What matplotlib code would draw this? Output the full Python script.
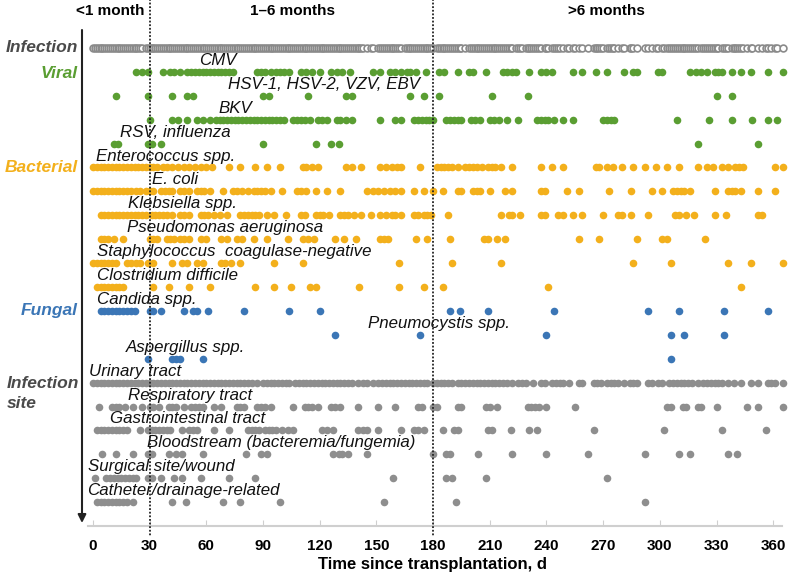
import matplotlib
matplotlib.use("Agg")
import matplotlib.pyplot as plt
import numpy as np

plt.rcParams['font.family'] = ['Liberation Sans', 'DejaVu Sans']

# ---------------- data (days since transplantation) ----------------
row_labels = ["CMV", "HSV-1, HSV-2, VZV, EBV", "BKV", "RSV, influenza",
              "Enterococcus spp.", "E. coli", "Klebsiella spp.", "Pseudomonas aeruginosa",
              "Staphylococcus  coagulase-negative", "Clostridium difficile",
              "Candida spp.", "Pneumocystis spp.", "Aspergillus spp.",
              "Urinary tract", "Respiratory tract", "Gastrointestinal tract",
              "Bloodstream (bacteremia/fungemia)", "Surgical site/wound",
              "Catheter/drainage-related"]
row_groups = ["viral"] * 4 + ["bacterial"] * 6 + ["fungal"] * 3 + ["site"] * 6

cmv = [23, 26, 29, 37, 41, 43, 46, 50, 52, 54, 56, 58, 60, 62, 64, 66, 68, 70, 72, 74,
       87, 89, 91, 94, 97, 99, 101, 104, 110, 113, 116, 120, 126, 129, 132, 136, 148, 152,
       157, 160, 163, 166, 168, 171, 176, 183, 186, 193, 199, 201, 208, 217, 219, 222, 224,
       231, 237, 240, 243, 254, 259, 266, 272, 281, 286, 288, 299, 301, 316, 319, 322, 325,
       329, 331, 333, 338, 343, 348, 357, 365]
hsv = [12, 29, 42, 50, 53, 90, 93, 114, 134, 137, 168, 175, 183, 211, 230, 330, 338]
bkv = [30, 42, 45, 50, 55, 58, 62, 65, 67, 69, 71, 73, 75, 77, 79, 81, 83, 85, 87, 89, 91,
       93, 95, 97, 99, 101, 106, 108, 110, 112, 115, 119, 121, 124, 129, 131, 134, 137, 152,
       160, 163, 170, 172, 174, 176, 178, 180, 187, 189, 191, 193, 195, 200, 202, 205, 210,
       212, 215, 219, 225, 235, 237, 239, 241, 244, 249, 254, 270, 272, 274, 276, 309, 326,
       338, 349, 357, 362]
rsv = [11, 13, 29, 31, 36, 90, 118, 126, 130, 320, 352]
entero = [0, 2, 4, 6, 8, 10, 12, 14, 16, 18, 20, 22, 24, 26, 28, 30, 32, 34, 37, 39, 42, 45,
          48, 51, 54, 57, 60, 63, 72, 78, 86, 92, 99, 111, 113, 116, 119, 134, 137, 142, 152,
          155, 158, 161, 163, 173, 182, 184, 186, 188, 190, 193, 197, 199, 201, 203, 206, 209,
          211, 213, 216, 222, 237, 243, 249, 266, 268, 272, 275, 280, 286, 292, 298, 304, 310,
          320, 325, 328, 333, 336, 340, 342, 344, 361, 365]
ecoli = [0, 2, 4, 6, 8, 10, 12, 14, 16, 18, 20, 23, 25, 28, 30, 32, 36, 38, 40, 42, 46, 48,
         51, 55, 57, 59, 62, 69, 74, 76, 79, 82, 85, 87, 89, 91, 94, 100, 108, 110, 113, 118,
         124, 131, 145, 148, 151, 154, 157, 160, 163, 170, 175, 180, 185, 193, 195, 201, 203,
         205, 210, 218, 222, 237, 239, 251, 257, 273, 285, 296, 301, 307, 309, 311, 313, 316,
         329, 336, 338, 340, 343, 352, 361]
klebs = [4, 6, 8, 10, 12, 14, 16, 18, 20, 22, 24, 26, 28, 31, 33, 35, 37, 39, 42, 46, 48, 51,
         57, 59, 61, 64, 67, 71, 78, 80, 82, 84, 86, 88, 92, 96, 102, 110, 112, 118, 120, 122,
         125, 131, 133, 135, 138, 142, 147, 152, 155, 158, 160, 163, 170, 172, 175, 177, 179,
         188, 216, 220, 222, 226, 237, 239, 246, 249, 254, 259, 270, 278, 280, 285, 294, 308,
         310, 314, 318, 329, 335, 352, 354]
pseudo = [4, 6, 8, 11, 16, 30, 32, 34, 39, 41, 43, 46, 48, 51, 57, 60, 68, 71, 76, 79, 85,
          92, 103, 111, 114, 117, 128, 133, 139, 152, 154, 156, 171, 177, 189, 207, 209, 214,
          218, 257, 268, 288, 301, 304, 324]
staph = [0, 2, 4, 6, 8, 10, 12, 18, 20, 23, 25, 29, 32, 42, 47, 50, 55, 58, 68, 70, 73, 78,
         96, 111, 162, 190, 216, 286, 306, 336, 348, 365]
clost = [2, 4, 6, 8, 10, 12, 14, 16, 32, 40, 51, 62, 86, 96, 105, 115, 118, 141, 162, 175,
         185, 241, 343]
candida = [4, 6, 8, 10, 12, 14, 16, 18, 20, 22, 30, 32, 36, 48, 53, 55, 61, 80, 104, 120,
           189, 194, 209, 244, 294, 310, 334, 357]
pneumo = [128, 173, 240, 306, 313, 334]
asperg = [29, 42, 44, 46, 58, 306]
urinary = [0, 2, 4, 6, 8, 10, 12, 14, 16, 18, 20, 22, 24, 26, 28, 30, 32, 34, 36, 38, 40, 42,
           44, 46, 48, 50, 52, 54, 56, 58, 60, 62, 64, 66, 68, 70, 72, 74, 76, 78, 80, 82, 84,
           87, 90, 92, 94, 96, 98, 100, 102, 104, 107, 109, 111, 113, 115, 117, 119, 121, 123,
           125, 127, 129, 131, 133, 135, 137, 140, 143, 145, 148, 151, 153, 155, 157, 159, 161,
           163, 165, 167, 169, 171, 173, 175, 177, 180, 182, 184, 186, 188, 190, 193, 195, 197,
           199, 201, 203, 205, 207, 209, 211, 213, 215, 217, 219, 222, 225, 227, 229, 233, 237,
           239, 243, 245, 247, 249, 252, 257, 259, 265, 267, 269, 272, 274, 276, 278, 281, 284,
           286, 288, 294, 296, 299, 301, 305, 307, 309, 311, 313, 315, 317, 320, 323, 325, 327,
           329, 331, 333, 336, 339, 343, 348, 352, 357, 359, 361, 365]
resp = [3, 10, 12, 14, 17, 21, 26, 30, 32, 35, 40, 42, 44, 48, 52, 54, 56, 58, 64, 68, 76,
        78, 80, 87, 89, 91, 94, 106, 112, 114, 116, 119, 126, 128, 131, 140, 151, 160, 172,
        174, 180, 182, 193, 195, 208, 210, 214, 230, 232, 234, 236, 240, 255, 304, 306, 312,
        314, 320, 322, 330, 346, 352, 365]
gi = [2, 4, 6, 8, 10, 12, 14, 16, 18, 25, 29, 31, 33, 35, 37, 39, 41, 47, 51, 53, 55, 64, 72,
      82, 84, 86, 88, 91, 93, 95, 97, 100, 103, 106, 121, 124, 127, 140, 143, 145, 151, 163,
      170, 172, 175, 185, 191, 193, 209, 211, 221, 231, 235, 265, 302, 333, 356]
blood = [5, 12, 21, 29, 31, 40, 44, 47, 58, 81, 89, 92, 127, 130, 132, 135, 145, 180, 187,
         189, 204, 222, 240, 262, 292, 310, 316, 336, 341]
surgical = [1, 7, 9, 11, 13, 15, 17, 19, 21, 23, 29, 31, 36, 43, 47, 57, 72, 86, 159, 187,
            190, 208, 272]
catheter = [2, 4, 6, 8, 10, 12, 14, 16, 18, 21, 42, 49, 69, 78, 99, 154, 192, 292]

rows = [cmv, hsv, bkv, rsv, entero, ecoli, klebs, pseudo, staph, clost, candida, pneumo,
        asperg, urinary, resp, gi, blood, surgical, catheter]

x_ticks = [0, 30, 60, 90, 120, 150, 180, 210, 240, 270, 300, 330, 360]
period_bounds = [30, 180]
period_labels = ["<1 month", "1\u20136 months", ">6 months"]

# ---------------- layout / style ----------------
colors = {"viral": "#5a9e32", "bacterial": "#f3b01c", "fungal": "#3b76b6", "site": "#8e8e8e"}
label_x = [56, 71.5, 66.5, 14.3, 1.6, 31.2, 18.5, 18, 2.1, 2.1, 2.1, 145.6, 17.5,
           -2.1, 18.5, 9, 28.6, -2.6, -3.2]

fig = plt.figure(figsize=(8, 5.75), dpi=100)
ax = fig.add_axes([0.1096, 0.0852, 0.868, 0.8729])
ax.set_xlim(-2.8, 364.7)
ax.set_ylim(20.0, -1.0)

# Infection summary row: union of all days
infection_days = sorted(set(int(round(d)) for r in rows for d in r))
ax.scatter(infection_days, np.zeros(len(infection_days)), s=24, facecolor='white',
           edgecolor='#8a8a8a', linewidth=1.2, clip_on=False, zorder=3)

for i, (days, grp) in enumerate(zip(rows, row_groups)):
    y = i + 1
    ax.scatter(days, np.full(len(days), y), s=30, color=colors[grp], linewidth=0,
               clip_on=False, zorder=3)
    ax.text(label_x[i], y - 0.48, row_labels[i], fontsize=12.2, style='italic',
            color='#111111', va='center', ha='left', zorder=4)

for b in period_bounds:
    ax.plot([b, b], [-2.05, 20.4], ls=(0, (1, 1)), color='#222222', lw=1.3,
            clip_on=False, zorder=5)

for s in ['top', 'right', 'left']:
    ax.spines[s].set_visible(False)
ax.spines['bottom'].set_color('#cfcfcf')
ax.spines['bottom'].set_linewidth(1.5)
ax.set_yticks([])
ax.set_xticks(x_ticks)
ax.set_xticklabels([str(t) for t in x_ticks], fontsize=11, fontweight='bold')
ax.tick_params(axis='x', direction='in', length=4, color='#cfcfcf', pad=9)

fig.text(433 / 800, 1 - 565 / 575, "Time since transplantation, d", fontsize=12,
         fontweight='bold', ha='center', va='center')

for txt, px in zip(period_labels, [110, 292, 606]):
    fig.text(px / 800, 1 - 11 / 575, txt, fontsize=11, fontweight='bold',
             ha='center', va='center')

group_labels = [("Infection", 48, '#4a4a4a'), ("Viral", 73, colors['viral']),
                ("Bacterial", 167, colors['bacterial']), ("Fungal", 311, colors['fungal'])]
for txt, py, c in group_labels:
    fig.text(78 / 800, 1 - py / 575, txt, fontsize=12.5, fontweight='bold', style='italic',
             color=c, ha='right', va='center')
fig.text(7 / 800, 1 - 383 / 575, "Infection", fontsize=12.5, fontweight='bold',
         style='italic', color='#4a4a4a', ha='left', va='center')
fig.text(7 / 800, 1 - 403 / 575, "site", fontsize=12.5, fontweight='bold',
         style='italic', color='#4a4a4a', ha='left', va='center')

ax.annotate('', xy=(82 / 800, 1 - 523 / 575), xytext=(82 / 800, 1 - 30 / 575),
            xycoords='figure fraction', textcoords='figure fraction',
            arrowprops=dict(arrowstyle='-|>', color='#222222', lw=1.5, mutation_scale=12,
                            shrinkA=0, shrinkB=0))

fig.savefig("out.png", dpi=100)
